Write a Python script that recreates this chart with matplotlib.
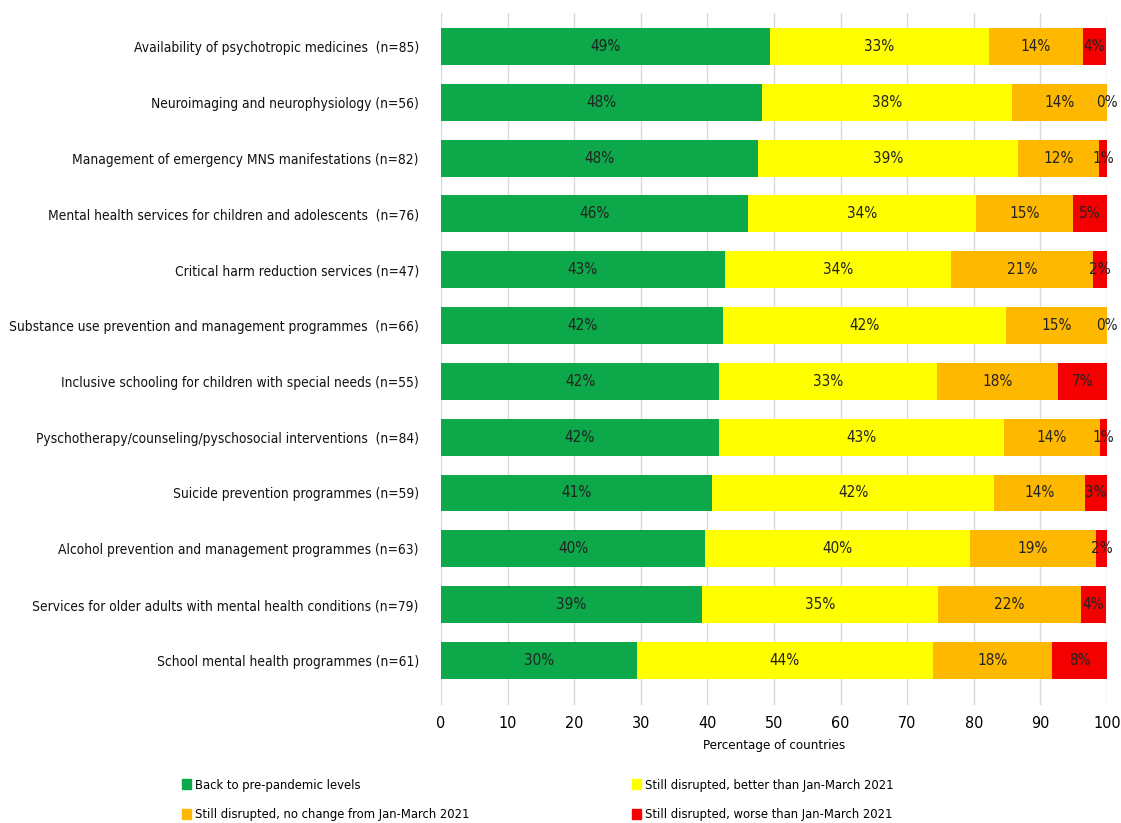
import numpy as np
import matplotlib.pyplot as plt
from matplotlib.patches import Patch

plt.rcParams['font.family'] = ['DejaVu Sans']
plt.rcParams['font.stretch'] = 'condensed'

categories = [
    'Availability of psychotropic medicines  (n=85)',
    'Neuroimaging and neurophysiology (n=56)',
    'Management of emergency MNS manifestations (n=82)',
    'Mental health services for children and adolescents  (n=76)',
    'Critical harm reduction services (n=47)',
    'Substance use prevention and management programmes  (n=66)',
    'Inclusive schooling for children with special needs (n=55)',
    'Pyschotherapy/counseling/pyschosocial interventions  (n=84)',
    'Suicide prevention programmes (n=59)',
    'Alcohol prevention and management programmes (n=63)',
    'Services for older adults with mental health conditions (n=79)',
    'School mental health programmes (n=61)',
]

series = [
    'Back to pre-pandemic levels',
    'Still disrupted, better than Jan-March 2021',
    'Still disrupted, no change from Jan-March 2021',
    'Still disrupted, worse than Jan-March 2021',
]

back = [49.4, 48.2, 47.6, 46.1, 42.6, 42.4, 41.8, 41.7, 40.7, 39.7, 39.2, 29.5]
better = [32.9, 37.5, 39.0, 34.2, 34.0, 42.4, 32.7, 42.9, 42.4, 39.7, 35.4, 44.3]
nochange = [14.1, 14.3, 12.2, 14.6, 21.3, 15.2, 18.2, 14.3, 13.6, 19.0, 21.5, 18.0]
worse = [3.5, 0.0, 1.2, 5.1, 2.1, 0.0, 7.3, 1.2, 3.4, 1.6, 3.8, 8.2]

lbl_back = ['49%', '48%', '48%', '46%', '43%', '42%', '42%', '42%', '41%', '40%', '39%', '30%']
lbl_better = ['33%', '38%', '39%', '34%', '34%', '42%', '33%', '43%', '42%', '40%', '35%', '44%']
lbl_nochange = ['14%', '14%', '12%', '15%', '21%', '15%', '18%', '14%', '14%', '19%', '22%', '18%']
lbl_worse = ['4%', '0%', '1%', '5%', '2%', '0%', '7%', '1%', '3%', '2%', '4%', '8%']

colors = ['#0DA84A', '#FFFF00', '#FFB800', '#F40000']

data = [back, better, nochange, worse]
labels = [lbl_back, lbl_better, lbl_nochange, lbl_worse]

fig = plt.figure(figsize=(11.21, 8.23), dpi=100)
ax = fig.add_axes([441 / 1121, 1 - 705 / 823, 666 / 1121, 692 / 823])

y = np.arange(len(categories))
left = np.zeros(len(categories))
for vals, col, lbls in zip(data, colors, labels):
    bars = ax.barh(y, vals, left=left, height=0.66, color=col, zorder=2)
    ax.bar_label(bars, labels=lbls, label_type='center', fontsize=11,
                 color='#222222')
    left += np.array(vals)

ax.set_xlim(0, 100)
ax.set_ylim(11.8, -0.6)
ax.set_xticks(range(0, 101, 10))
ax.set_yticks(y)
ax.set_yticklabels(categories, fontsize=9.9, color='#111111')
ax.tick_params(axis='y', length=0, pad=16)
ax.tick_params(axis='x', length=0, labelsize=11.5, pad=8)
ax.xaxis.grid(True, color='#d9d9d9', lw=1, zorder=0)
for s in ax.spines.values():
    s.set_visible(False)
ax.set_xlabel('Percentage of countries', fontsize=9.5, labelpad=6)

handles = [Patch(color=c) for c in colors]
leg_kw = dict(loc='upper left', frameon=False, fontsize=9.3, handlelength=0.75,
              handleheight=0.75, handletextpad=0.3, labelspacing=1.3)
fig.legend([handles[0], handles[2]], [series[0], series[2]],
           bbox_to_anchor=(170 / 1121, 1 - 767 / 823), **leg_kw)
fig.legend([handles[1], handles[3]], [series[1], series[3]],
           bbox_to_anchor=(620 / 1121, 1 - 767 / 823), **leg_kw)

fig.savefig('out.png', dpi=100)
